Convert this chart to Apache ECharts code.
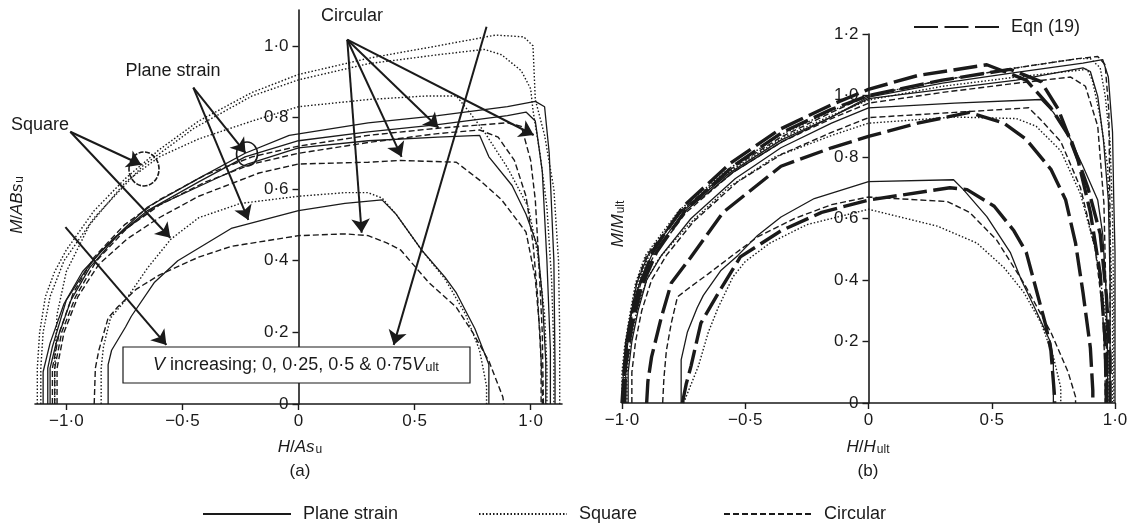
<!DOCTYPE html>
<html>
<head>
<meta charset="utf-8">
<script src="https://cdn.jsdelivr.net/npm/echarts@6/dist/echarts.min.js"></script>
<style>
  html, body { margin: 0; padding: 0; background: #fff; }
  #chart { width: 1134px; height: 523px; }
</style>
</head>
<body>
<div id="chart"></div>
<script>
const FONT = '"Liberation Sans", Arial, Helvetica, sans-serif';
const INK = '#1a1a1a';

// tick positions
const ticksXa = [-1, -0.5, 0, 0.5, 1];
const ticksYa = [0, 0.2, 0.4, 0.6, 0.8, 1.0];
const ticksXb = [-1, -0.5, 0, 0.5, 1];
const ticksYb = [0, 0.2, 0.4, 0.6, 0.8, 1.0, 1.2];

// ---- panel (a): M/ABs_u against H/As_u, V = 0, 0.25, 0.5, 0.75 Vult
const psA0 = [[-1.08,0],[-1.08,0.1],[-1.06,0.16],[-1.0,0.29],[-0.92,0.37],[-0.86,0.42],[-0.75,0.49],[-0.65,0.55],[-0.43,0.63],[-0.23,0.7],[-0.04,0.75],[0.3,0.785],[0.6,0.805],[0.9,0.83],[1.02,0.845],[1.06,0.83],[1.08,0.7],[1.1,0.4],[1.105,0.1],[1.105,0]];
const psA25 = [[-1.1,0],[-1.1,0.09],[-1.07,0.17],[-1.01,0.28],[-0.93,0.37],[-0.8,0.46],[-0.65,0.54],[-0.43,0.62],[-0.23,0.69],[0,0.735],[0.3,0.76],[0.6,0.78],[0.9,0.805],[0.98,0.815],[1.02,0.79],[1.05,0.65],[1.07,0.4],[1.085,0.15],[1.085,0]];
const psA50 = [[-1.07,0],[-1.07,0.1],[-1.04,0.18],[-0.98,0.29],[-0.9,0.38],[-0.78,0.47],[-0.62,0.55],[-0.42,0.61],[-0.22,0.67],[0,0.715],[0.3,0.735],[0.6,0.745],[0.78,0.75],[0.82,0.69],[0.92,0.61],[0.98,0.53],[1.03,0.44],[1.05,0.3],[1.065,0.12],[1.065,0]];
const psA75 = [[-0.82,0],[-0.82,0.11],[-0.805,0.15],[-0.745,0.215],[-0.72,0.245],[-0.62,0.34],[-0.52,0.4],[-0.29,0.49],[0,0.54],[0.2,0.56],[0.36,0.57],[0.42,0.53],[0.53,0.43],[0.63,0.355],[0.68,0.31],[0.76,0.21],[0.82,0.11],[0.82,0]];

const sqA0 = [[-1.125,0],[-1.125,0.1],[-1.115,0.2],[-1.09,0.3],[-1.05,0.37],[-1.0,0.43],[-0.88,0.54],[-0.745,0.63],[-0.6,0.71],[-0.43,0.79],[-0.2,0.87],[0,0.92],[0.3,0.965],[0.6,1.0],[0.85,1.03],[0.97,1.025],[1.01,1.0],[1.02,0.85],[1.06,0.75],[1.1,0.6],[1.12,0.4],[1.125,0.2],[1.125,0]];
const sqA25 = [[-1.11,0],[-1.11,0.1],[-1.1,0.2],[-1.07,0.3],[-1.01,0.4],[-0.88,0.52],[-0.67,0.665],[-0.45,0.77],[-0.2,0.86],[0,0.905],[0.3,0.95],[0.6,0.975],[0.8,0.99],[0.875,0.975],[0.96,0.93],[1.0,0.88],[1.01,0.82],[1.04,0.7],[1.07,0.55],[1.09,0.35],[1.1,0.15],[1.1,0]];
const sqA50 = [[-1.05,0],[-1.05,0.1],[-1.04,0.25],[-1.0,0.37],[-0.9,0.5],[-0.745,0.62],[-0.6,0.69],[-0.43,0.74],[-0.2,0.79],[0,0.83],[0.3,0.85],[0.55,0.86],[0.68,0.86],[0.73,0.82],[0.8,0.76],[0.9,0.66],[0.99,0.55],[1.03,0.42],[1.06,0.25],[1.07,0.1],[1.07,0]];
const sqA75 = [[-0.85,0],[-0.85,0.1],[-0.84,0.16],[-0.81,0.24],[-0.745,0.29],[-0.65,0.38],[-0.55,0.46],[-0.43,0.52],[-0.25,0.56],[0,0.58],[0.2,0.59],[0.3,0.59],[0.36,0.575],[0.42,0.53],[0.53,0.43],[0.63,0.35],[0.72,0.25],[0.78,0.15],[0.81,0.05],[0.81,0]];

const ciA0 = [[-1.06,0],[-1.06,0.1],[-1.03,0.2],[-0.97,0.31],[-0.88,0.41],[-0.75,0.5],[-0.6,0.57],[-0.4,0.64],[-0.2,0.69],[0,0.72],[0.3,0.75],[0.6,0.77],[0.9,0.785],[0.96,0.775],[1.0,0.68],[1.02,0.57],[1.035,0.4],[1.05,0.2],[1.055,0]];
const ciA25 = [[-1.05,0],[-1.05,0.1],[-1.02,0.2],[-0.96,0.3],[-0.87,0.4],[-0.74,0.49],[-0.6,0.555],[-0.4,0.62],[-0.2,0.67],[0,0.7],[0.3,0.73],[0.6,0.755],[0.78,0.765],[0.86,0.745],[0.93,0.68],[0.98,0.58],[1.01,0.45],[1.03,0.3],[1.045,0.12],[1.045,0]];
const ciA50 = [[-1.04,0],[-1.04,0.1],[-1.01,0.2],[-0.95,0.3],[-0.86,0.39],[-0.74,0.46],[-0.6,0.52],[-0.43,0.58],[-0.17,0.645],[0,0.67],[0.3,0.675],[0.44,0.68],[0.68,0.675],[0.78,0.625],[0.875,0.57],[0.98,0.48],[1.02,0.35],[1.04,0.2],[1.05,0.05],[1.05,0]];
const ciA75 = [[-0.88,0],[-0.875,0.1],[-0.86,0.15],[-0.82,0.24],[-0.78,0.27],[-0.7,0.32],[-0.6,0.36],[-0.43,0.41],[-0.29,0.44],[0,0.47],[0.2,0.475],[0.3,0.47],[0.38,0.45],[0.44,0.43],[0.56,0.34],[0.68,0.27],[0.75,0.2],[0.82,0.12],[0.88,0.02],[0.885,0]];

// ---- panel (b): normalised, M/Mult against H/Hult
const psB0 = [[-0.985,0],[-0.985,0.1],[-0.98,0.17],[-0.965,0.28],[-0.94,0.39],[-0.895,0.48],[-0.76,0.62],[-0.56,0.75],[-0.355,0.855],[-0.15,0.93],[0,0.995],[0.3,1.04],[0.6,1.075],[0.87,1.105],[0.95,1.117],[0.973,1.06],[0.99,0.88],[0.995,0.66],[1.0,0.49],[1.0,0]];
const psB25 = [[-0.995,0],[-0.995,0.1],[-0.985,0.2],[-0.96,0.3],[-0.925,0.4],[-0.88,0.48],[-0.75,0.62],[-0.55,0.75],[-0.35,0.85],[-0.15,0.93],[0,0.99],[0.3,1.02],[0.6,1.05],[0.87,1.09],[0.9,1.078],[0.93,0.997],[0.953,0.857],[0.973,0.66],[0.98,0.4],[0.98,0]];
const psB50 = [[-0.975,0],[-0.975,0.1],[-0.96,0.2],[-0.935,0.3],[-0.9,0.4],[-0.84,0.48],[-0.72,0.6],[-0.54,0.73],[-0.355,0.83],[-0.15,0.91],[0,0.96],[0.35,0.975],[0.7,0.987],[0.75,0.945],[0.82,0.857],[0.87,0.77],[0.93,0.66],[0.95,0.55],[0.965,0.35],[0.97,0.15],[0.97,0]];
const psB75 = [[-0.76,0],[-0.76,0.14],[-0.735,0.23],[-0.695,0.31],[-0.67,0.35],[-0.6,0.43],[-0.53,0.48],[-0.45,0.545],[-0.355,0.605],[-0.22,0.665],[0,0.72],[0.345,0.726],[0.385,0.694],[0.48,0.606],[0.575,0.49],[0.62,0.4],[0.68,0.3],[0.74,0.195],[0.75,0.14],[0.75,0]];

const sqB0 = [[-1,0],[-1,0.1],[-0.99,0.18],[-0.97,0.28],[-0.945,0.39],[-0.905,0.48],[-0.77,0.625],[-0.57,0.76],[-0.36,0.87],[-0.15,0.95],[0,1.0],[0.3,1.05],[0.6,1.09],[0.85,1.12],[0.9,1.12],[0.94,1.09],[0.96,1.0],[0.98,0.85],[0.99,0.6],[0.995,0.3],[0.995,0]];
const sqB25 = [[-0.99,0],[-0.99,0.1],[-0.98,0.2],[-0.96,0.3],[-0.93,0.4],[-0.89,0.48],[-0.76,0.625],[-0.56,0.755],[-0.355,0.86],[-0.15,0.935],[0,0.985],[0.3,1.03],[0.6,1.06],[0.887,1.085],[0.908,1.05],[0.94,0.93],[0.97,0.77],[0.98,0.55],[0.99,0.3],[0.99,0]];
const sqB50 = [[-0.98,0],[-0.98,0.1],[-0.965,0.2],[-0.94,0.3],[-0.9,0.4],[-0.85,0.47],[-0.73,0.58],[-0.57,0.7],[-0.38,0.8],[-0.15,0.87],[0,0.91],[0.35,0.93],[0.6,0.925],[0.68,0.9],[0.78,0.82],[0.86,0.68],[0.92,0.5],[0.96,0.3],[0.975,0.1],[0.975,0]];
const sqB75 = [[-0.75,0],[-0.72,0.06],[-0.69,0.12],[-0.65,0.23],[-0.61,0.31],[-0.55,0.41],[-0.5,0.46],[-0.4,0.52],[-0.25,0.58],[0,0.63],[0.28,0.575],[0.44,0.52],[0.55,0.44],[0.63,0.36],[0.7,0.26],[0.75,0.15],[0.78,0.05],[0.78,0]];

const ciB0 = [[-1,0],[-0.995,0.1],[-0.985,0.18],[-0.965,0.29],[-0.94,0.395],[-0.9,0.48],[-0.76,0.625],[-0.56,0.76],[-0.355,0.865],[-0.15,0.945],[0,1.0],[0.3,1.05],[0.6,1.09],[0.85,1.12],[0.93,1.127],[0.96,1.1],[0.975,0.95],[0.98,0.6],[0.98,0.3],[0.98,0]];
const ciB25 = [[-0.99,0],[-0.99,0.1],[-0.98,0.2],[-0.955,0.3],[-0.92,0.4],[-0.87,0.48],[-0.74,0.62],[-0.55,0.75],[-0.35,0.85],[-0.15,0.925],[0,0.975],[0.3,1.01],[0.6,1.04],[0.82,1.06],[0.88,1.03],[0.93,0.9],[0.955,0.65],[0.965,0.3],[0.965,0]];
const ciB50 = [[-0.96,0],[-0.96,0.1],[-0.945,0.2],[-0.92,0.3],[-0.88,0.4],[-0.82,0.48],[-0.71,0.59],[-0.53,0.72],[-0.35,0.81],[-0.15,0.88],[0,0.928],[0.35,0.945],[0.65,0.96],[0.7,0.92],[0.78,0.85],[0.86,0.7],[0.92,0.5],[0.95,0.3],[0.96,0.1],[0.96,0]];
const ciB75 = [[-0.835,0],[-0.83,0.08],[-0.82,0.17],[-0.8,0.26],[-0.775,0.345],[-0.735,0.37],[-0.65,0.42],[-0.56,0.475],[-0.45,0.54],[-0.3,0.6],[-0.15,0.645],[0,0.67],[0.32,0.655],[0.41,0.62],[0.52,0.53],[0.63,0.39],[0.74,0.23],[0.81,0.1],[0.84,0.02],[0.84,0]];

const eqB0 = [[-1,0],[-0.99,0.12],[-0.97,0.25],[-0.93,0.38],[-0.87,0.5],[-0.75,0.64],[-0.56,0.78],[-0.36,0.89],[-0.15,0.97],[0,1.02],[0.2,1.065],[0.48,1.1],[0.64,1.05],[0.74,0.96],[0.82,0.86],[0.89,0.7],[0.94,0.55],[0.965,0.35],[0.98,0.15],[0.98,0]];
const eqB25 = [[-0.99,0],[-0.985,0.12],[-0.96,0.25],[-0.92,0.38],[-0.86,0.49],[-0.74,0.63],[-0.55,0.77],[-0.35,0.88],[-0.15,0.955],[0,1.0],[0.3,1.05],[0.575,1.085],[0.7,1.045],[0.77,0.955],[0.85,0.79],[0.9,0.62],[0.94,0.42],[0.96,0.2],[0.965,0]];
const eqB50 = [[-0.9,0],[-0.895,0.07],[-0.88,0.15],[-0.84,0.28],[-0.8,0.39],[-0.72,0.475],[-0.59,0.62],[-0.355,0.77],[-0.15,0.83],[0,0.867],[0.2,0.91],[0.41,0.945],[0.55,0.91],[0.64,0.857],[0.74,0.76],[0.8,0.66],[0.84,0.52],[0.87,0.36],[0.9,0.18],[0.91,0.04],[0.91,0]];
const eqB75 = [[-0.755,0],[-0.74,0.06],[-0.72,0.12],[-0.68,0.26],[-0.6,0.37],[-0.52,0.475],[-0.355,0.56],[-0.19,0.62],[0,0.66],[0.33,0.7],[0.4,0.694],[0.51,0.64],[0.59,0.56],[0.64,0.49],[0.67,0.4],[0.72,0.25],[0.74,0.17],[0.755,0.02],[0.755,0]];

// annotation arrows in panel (a), data units: [tail, head]
const arrowsA = [
  [[0.21, 1.017], [0.272, 0.478]],
  [[0.21, 1.017], [0.444, 0.69]],
  [[0.21, 1.017], [0.603, 0.771]],
  [[0.21, 1.017], [1.013, 0.751]],
  [[-0.453, 0.883], [-0.228, 0.701]],
  [[-0.453, 0.883], [-0.216, 0.514]],
  [[-0.983, 0.76], [-0.677, 0.668]],
  [[-0.983, 0.76], [-0.552, 0.464]],
  [[0.81, 1.053], [0.41, 0.165]],
  [[-1.004, 0.494], [-0.569, 0.165]]
];

const lineTypes = {
  'Plane strain': { type: 'solid', width: 1.3 },
  'Square': { type: [1.5, 2], width: 1.4 },
  'Circular': { type: [6, 3], width: 1.4 },
  'Eqn (19)': { type: [24, 6.5], width: 3.4 }
};

function curve(name, data, panel) {
  return {
    type: 'line', name: name, data: data,
    xAxisIndex: panel, yAxisIndex: panel,
    symbol: 'none', showSymbol: false, silent: true,
    lineStyle: Object.assign({ color: INK }, lineTypes[name]),
    itemStyle: { color: INK },
    emphasis: { disabled: true },
    z: name === 'Eqn (19)' ? 3 : 2
  };
}

function fmt(v) {
  if (Math.abs(v) < 1e-9) return '0';
  return (v < 0 ? '\u2212' : '') + Math.abs(v).toFixed(1).replace('.', '\u00b7');
}

function valueAxis(grid, min, max, ticks, shift) {
  return {
    type: 'value', gridIndex: grid, min: min, max: max,
    offset: shift || 0,
    axisLine: { onZero: false, lineStyle: { color: INK, width: 1.6 } },
    axisTick: { show: true, customValues: ticks, length: 6, lineStyle: { color: INK, width: 1.4 } },
    axisLabel: {
      customValues: ticks, formatter: fmt, color: INK,
      fontFamily: FONT, fontSize: 17, margin: shift ? 10 : 9
    },
    splitLine: { show: false }
  };
}

const series = [
  curve('Plane strain', psA0, 0), curve('Plane strain', psA25, 0),
  curve('Plane strain', psA50, 0), curve('Plane strain', psA75, 0),
  curve('Square', sqA0, 0), curve('Square', sqA25, 0),
  curve('Square', sqA50, 0), curve('Square', sqA75, 0),
  curve('Circular', ciA0, 0), curve('Circular', ciA25, 0),
  curve('Circular', ciA50, 0), curve('Circular', ciA75, 0),
  curve('Plane strain', psB0, 1), curve('Plane strain', psB25, 1),
  curve('Plane strain', psB50, 1), curve('Plane strain', psB75, 1),
  curve('Square', sqB0, 1), curve('Square', sqB25, 1),
  curve('Square', sqB50, 1), curve('Square', sqB75, 1),
  curve('Circular', ciB0, 1), curve('Circular', ciB25, 1),
  curve('Circular', ciB50, 1), curve('Circular', ciB75, 1),
  curve('Eqn (19)', eqB0, 1), curve('Eqn (19)', eqB25, 1),
  curve('Eqn (19)', eqB50, 1), curve('Eqn (19)', eqB75, 1)
];

// arrows ride on the first series of panel (a)
series[0].markLine = {
  silent: true, animation: false,
  symbol: ['none', 'arrow'], symbolSize: 14,
  label: { show: false },
  emphasis: { disabled: true },
  lineStyle: { color: INK, width: 2, type: 'solid' },
  data: arrowsA.map(a => [{ coord: a[0] }, { coord: a[1] }])
};

const legendBase = {
  padding: 0, itemWidth: 88, itemHeight: 14, selectedMode: false,
  itemStyle: { opacity: 0 },
  textStyle: { color: INK, fontFamily: FONT, fontSize: 18, padding: [0, 0, 0, 7] }
};

const it = { fontStyle: 'italic', fontSize: 17, fontFamily: FONT, fill: INK };
const up = { fontSize: 17, fontFamily: FONT, fill: INK };
const sub = { fontSize: 12, fontFamily: FONT, fill: INK, verticalAlign: 'bottom', padding: [0, 0, 0, 1] };
const bIt = Object.assign({}, it, { fontSize: 18 });
const bUp = Object.assign({}, up, { fontSize: 18 });
const bSub = Object.assign({}, sub, { fontSize: 13 });

function label(x, y, text, opts, big) {
  return Object.assign({
    type: 'text', x: x, y: y, z: 20,
    style: {
      text: text, fill: INK, font: (big ? 18 : 17) + 'px ' + FONT,
      align: 'center', verticalAlign: 'middle',
      rich: big ? { i: bIt, r: bUp, s: bSub } : { i: it, r: up, s: sub }
    }
  }, opts || {});
}

const chart = echarts.init(document.getElementById('chart'));
chart.setOption({
  animation: false,
  backgroundColor: '#fff',
  grid: [
    { left: 35, right: 572, top: 10, bottom: 119 },
    { left: 622, right: 19, top: 34, bottom: 120 }
  ],
  xAxis: [
    valueAxis(0, -1.135, 1.135, ticksXa),
    valueAxis(1, -1, 1, ticksXb)
  ],
  yAxis: [
    valueAxis(0, 0, 1.1, ticksYa, -263.5),
    valueAxis(1, 0, 1.2, ticksYb, -246.5)
  ],
  legend: [
    Object.assign({}, legendBase, { data: ['Plane strain'], left: 202, top: 505 }),
    Object.assign({}, legendBase, { data: ['Square'], left: 478, top: 505 }),
    Object.assign({}, legendBase, { data: ['Circular'], left: 723, top: 505 }),
    Object.assign({}, legendBase, { data: ['Eqn (19)'], left: 913, top: 18, itemWidth: 85 })
  ],
  graphic: [
    // axis titles and panel tags
    label(300, 447, '{i|H}{r|/}{i|As}{s|u}'),
    label(300, 471, '(a)'),
    label(17, 205, '{i|M}{r|/}{i|ABs}{s|u}', { rotation: Math.PI / 2 }),
    label(868, 447, '{i|H}{r|/}{i|H}{s|ult}'),
    label(868, 471, '(b)'),
    label(618, 224, '{i|M}{r|/}{i|M}{s|ult}', { rotation: Math.PI / 2 }),
    // annotation labels
    label(352, 16, 'Circular', null, true),
    label(173, 71, 'Plane strain', null, true),
    label(40, 125, 'Square', null, true),
    // circled crossing points
    { type: 'ellipse', z: 20, shape: { cx: 144, cy: 169, rx: 15, ry: 17 },
      style: { fill: 'none', stroke: INK, lineWidth: 1.6, lineDash: [5, 1.5] } },
    { type: 'ellipse', z: 20, shape: { cx: 247, cy: 154, rx: 10.5, ry: 12 },
      style: { fill: 'none', stroke: INK, lineWidth: 1.6 } },
    // note box
    { type: 'rect', z: 19, shape: { x: 123, y: 347, width: 347, height: 36 },
      style: { fill: '#fff', stroke: INK, lineWidth: 1.2 } },
    label(296, 365, '{i|V}{r| increasing; 0, 0\u00b725, 0\u00b75 & 0\u00b775}{i|V}{s|ult}', null, true)
  ],
  series: series
});
</script>
</body>
</html>
